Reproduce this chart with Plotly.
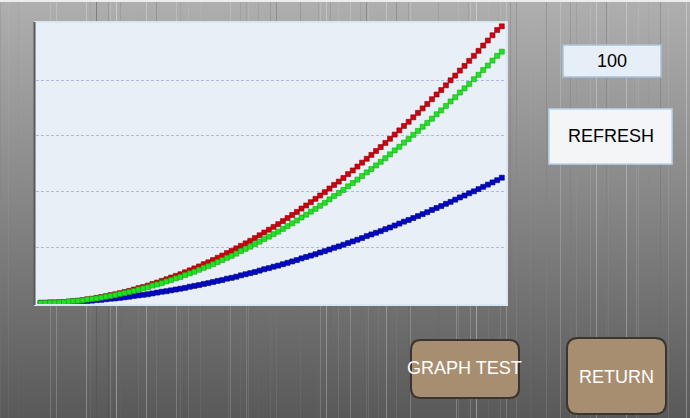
import base64
import plotly.graph_objects as go

# sample index along the x axis (100 samples, as set in the "100" box)
sample_index = list(range(100))

series_red = [0.0, 0.0, 0.1, 0.1, 0.2, 0.3, 0.5, 0.7, 0.8, 1.0,
              1.3, 1.5, 1.8, 2.1, 2.4, 2.8, 3.1, 3.5, 3.9, 4.3,
              4.8, 5.3, 5.7, 6.2, 6.8, 7.3, 7.9, 8.5, 9.1, 9.7,
              10.3, 11.0, 11.7, 12.4, 13.1, 13.9, 14.6, 15.4, 16.2, 17.0,
              17.9, 18.7, 19.6, 20.5, 21.4, 22.3, 23.3, 24.3, 25.3, 26.3,
              27.3, 28.3, 29.4, 30.5, 31.6, 32.7, 33.9, 35.0, 36.2, 37.4,
              38.6, 39.8, 41.1, 42.4, 43.6, 44.9, 46.3, 47.6, 49.0, 50.4,
              51.8, 53.2, 54.6, 56.0, 57.5, 59.0, 60.5, 62.0, 63.6, 65.1,
              66.7, 68.3, 69.9, 71.5, 73.2, 74.9, 76.5, 78.2, 80.0, 81.7,
              83.5, 85.2, 87.0, 88.8, 90.6, 92.5, 94.3, 96.2, 98.1, 99.4]

series_green = [0.0, 0.0, 0.1, 0.1, 0.2, 0.3, 0.5, 0.6, 0.7, 0.9,
                1.2, 1.4, 1.6, 1.9, 2.2, 2.5, 2.8, 3.2, 3.5, 3.9,
                4.3, 4.8, 5.2, 5.6, 6.2, 6.6, 7.1, 7.7, 8.2, 8.8,
                9.3, 10.0, 10.6, 11.2, 11.9, 12.6, 13.2, 13.9, 14.7, 15.4,
                16.2, 16.9, 17.7, 18.6, 19.4, 20.2, 21.1, 22.0, 22.9, 23.8,
                24.7, 25.6, 26.6, 27.6, 28.6, 29.6, 30.7, 31.7, 32.8, 33.8,
                34.9, 36.0, 37.2, 38.4, 39.5, 40.6, 41.9, 43.1, 44.3, 45.6,
                46.9, 48.1, 49.4, 50.7, 52.0, 53.4, 54.8, 56.1, 57.6, 58.9,
                60.4, 61.8, 63.3, 64.7, 66.2, 67.8, 69.2, 70.8, 72.4, 73.9,
                75.6, 77.1, 78.7, 80.4, 82.0, 83.7, 85.3, 87.1, 88.8, 90.3]

series_blue = [0.0, 0.0, 0.1, 0.1, 0.1, 0.2, 0.3, 0.4, 0.5, 0.6,
               0.7, 0.8, 1.0, 1.1, 1.3, 1.5, 1.6, 1.8, 2.0, 2.2,
               2.5, 2.7, 2.9, 3.1, 3.4, 3.7, 4.0, 4.2, 4.5, 4.8,
               5.1, 5.4, 5.8, 6.1, 6.4, 6.8, 7.1, 7.5, 7.9, 8.2,
               8.7, 9.0, 9.4, 9.9, 10.3, 10.7, 11.1, 11.6, 12.1, 12.5,
               13.0, 13.4, 13.9, 14.4, 14.9, 15.4, 16.0, 16.5, 17.0, 17.5,
               18.1, 18.6, 19.2, 19.8, 20.3, 20.9, 21.5, 22.1, 22.7, 23.3,
               24.0, 24.6, 25.2, 25.8, 26.5, 27.1, 27.8, 28.5, 29.2, 29.8,
               30.5, 31.2, 31.9, 32.6, 33.4, 34.1, 34.8, 35.6, 36.3, 37.1,
               37.9, 38.6, 39.4, 40.1, 40.9, 41.7, 42.5, 43.3, 44.1, 45.0]

grid_values = [20, 40, 60, 80]
sample_count_label = "100"
button_labels = ["REFRESH", "GRAPH TEST", "RETURN"]

W, H = 690, 418
ML, MR, MT, MB = 36, 184, 23, 114
PW, PH = W - ML - MR, H - MT - MB


def px(x):
    return (x - ML) / PW


def py(y):
    return (H - MB - y) / PH


def rounded(x0, y0, x1, y1, r):
    # rounded rectangle path in paper coords from pixel box
    pts = [
        f"M{px(x0 + r)},{py(y0)}", f"L{px(x1 - r)},{py(y0)}",
        f"Q{px(x1)},{py(y0)} {px(x1)},{py(y0 + r)}", f"L{px(x1)},{py(y1 - r)}",
        f"Q{px(x1)},{py(y1)} {px(x1 - r)},{py(y1)}", f"L{px(x0 + r)},{py(y1)}",
        f"Q{px(x0)},{py(y1)} {px(x0)},{py(y1 - r)}", f"L{px(x0)},{py(y0 + r)}",
        f"Q{px(x0)},{py(y0)} {px(x0 + r)},{py(y0)}", "Z",
    ]
    return " ".join(pts)


# brushed metal background as an svg
streaks = []
for k in range(260):
    x = (k * 97 + k * k * 13) % W + 0.5
    light = k % 3 != 0
    op = 0.03 + ((k * 7) % 5) * 0.022
    col = "#ffffff" if light else "#000000"
    streaks.append(f'<line x1="{x}" y1="0" x2="{x}" y2="{H}" stroke="{col}" '
                   f'stroke-opacity="{op:.3f}" stroke-width="1"/>')
svg = (
    f'<svg xmlns="http://www.w3.org/2000/svg" width="{W}" height="{H}" viewBox="0 0 {W} {H}" preserveAspectRatio="none">'
    '<defs><linearGradient id="g" x1="0" y1="0" x2="0" y2="1">'
    '<stop offset="0" stop-color="#afafaf"/><stop offset="0.45" stop-color="#898989"/>'
    '<stop offset="1" stop-color="#595959"/></linearGradient></defs>'
    f'<rect width="{W}" height="{H}" fill="url(#g)"/>'
    + "".join(streaks) +
    f'<rect width="{W}" height="2" fill="#ededed"/>'
    '</svg>'
)
bg_src = "data:image/svg+xml;base64," + base64.b64encode(svg.encode()).decode()

fig = go.Figure()

for vals, fill, edge in [(series_red, "#d0000c", "#8a0008"),
                         (series_blue, "#0008c8", "#00007a"),
                         (series_green, "#22e022", "#14a814")]:
    fig.add_trace(go.Scatter(
        x=sample_index, y=vals, mode="markers",
        marker=dict(symbol="square", size=5, color=fill,
                    line=dict(color=edge, width=0.6)),
        hoverinfo="skip", showlegend=False,
    ))

fig.update_xaxes(range=[-1.0, 99.9], showgrid=False, zeroline=False,
                 showticklabels=False, ticks="", showline=True, mirror=True,
                 linecolor="#d8e6f2", linewidth=2)
fig.update_yaxes(range=[-0.4, 100.6], tickvals=grid_values, showgrid=True,
                 gridcolor="#b2badb", gridwidth=1, griddash="3px,2px",
                 zeroline=False, showticklabels=False, ticks="",
                 showline=True, mirror=True, linecolor="#d8e6f2", linewidth=2)

shapes = [
    # chart background, drawn over the metal texture
    dict(type="rect", xref="paper", yref="paper", x0=0, x1=1, y0=0, y1=1,
         fillcolor="#e8eff7", line=dict(width=0), layer="below"),
    # shadow on the left edge of the chart frame
    dict(type="line", xref="paper", yref="paper", x0=px(34.5), x1=px(34.5),
         y0=py(305), y1=py(22), line=dict(color="#5a5a5a", width=2)),
    # sample count box
    dict(type="rect", xref="paper", yref="paper", x0=px(563), x1=px(661),
         y0=py(77), y1=py(45), fillcolor="#e6eef8",
         line=dict(color="#a9c2da", width=1.5)),
    # refresh button
    dict(type="rect", xref="paper", yref="paper", x0=px(549), x1=px(672),
         y0=py(164), y1=py(109), fillcolor="#f3f5f7",
         line=dict(color="#bcd3ea", width=1.5)),
    # graph test button
    dict(type="path", xref="paper", yref="paper",
         path=rounded(411, 340, 519, 398, 10), fillcolor="#a88e70",
         line=dict(color="#3a3530", width=2)),
    # return button
    dict(type="path", xref="paper", yref="paper",
         path=rounded(567, 338, 666, 414, 11), fillcolor="#a88e70",
         line=dict(color="#3a3530", width=2)),
]

annotations = [
    dict(text=sample_count_label, x=px(612), y=py(61), font=dict(color="#000000", size=18)),
    dict(text=button_labels[0], x=px(611), y=py(136), font=dict(color="#000000", size=18)),
    dict(text=button_labels[1], x=px(464), y=py(368), font=dict(color="#ffffff", size=18)),
    dict(text=button_labels[2], x=px(616), y=py(377), font=dict(color="#ffffff", size=18)),
]
for a in annotations:
    a.update(xref="paper", yref="paper", showarrow=False, xanchor="center", yanchor="middle")

fig.update_layout(
    width=W, height=H, autosize=False,
    margin=dict(l=ML, r=MR, t=MT, b=MB, pad=0),
    paper_bgcolor="#8a8a8a", plot_bgcolor="#e8eff7",
    font=dict(family="Liberation Sans, Arial, sans-serif"),
    shapes=shapes, annotations=annotations,
    images=[dict(source=bg_src, xref="paper", yref="paper",
                 x=px(0), y=py(0), sizex=W / PW, sizey=H / PH,
                 xanchor="left", yanchor="top", sizing="stretch", layer="below")],
)

fig.write_html("out.html", config={"displayModeBar": False},
               post_script="document.body.style.margin='0';")
